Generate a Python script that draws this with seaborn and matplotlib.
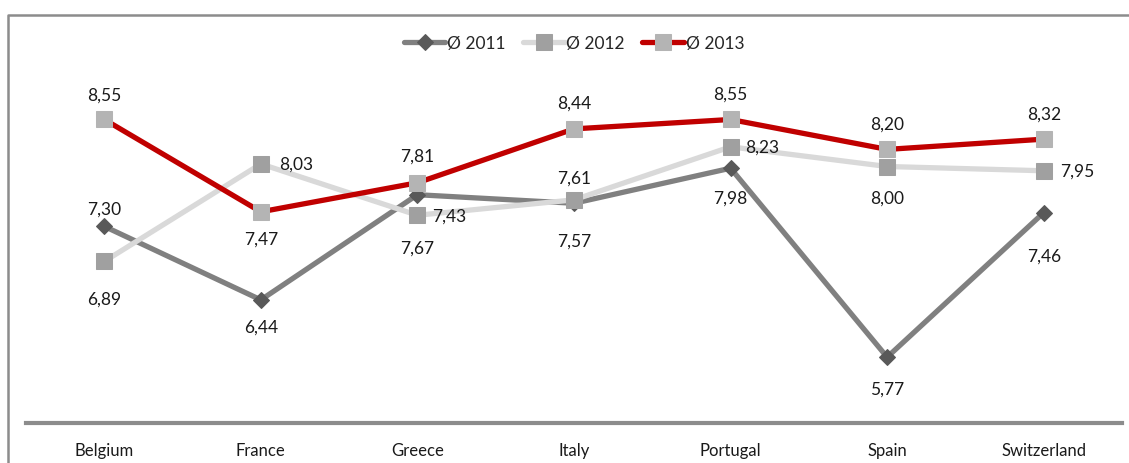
import matplotlib
matplotlib.use("Agg")
import matplotlib.pyplot as plt
import seaborn as sns
import pandas as pd
from matplotlib.lines import Line2D

countries = ["Belgium", "France", "Greece", "Italy", "Portugal", "Spain", "Switzerland"]
avg_2011 = [7.30, 6.44, 7.67, 7.57, 7.98, 5.77, 7.46]
avg_2012 = [6.89, 8.03, 7.43, 7.61, 8.23, 8.00, 7.95]
avg_2013 = [8.55, 7.47, 7.81, 8.44, 8.55, 8.20, 8.32]

# label offsets from each point, in pixels (dx, dy; positive dy = up)
off_2011 = [(0, 18), (0, -27), (0, -53), (0, -37), (0, -29), (0, -31), (0, -43)]
off_2012 = [(0, -37), (35, 0), (32, 0), (0, 22), (32, 0), (0, -31), (34, 0)]
off_2013 = [(0, 25), (0, -27), (0, 27), (0, 26), (0, 26), (0, 26), (0, 26)]

sns.set_theme(style="white")
plt.rcParams["font.family"] = ["Lato", "DejaVu Sans"]

fig = plt.figure(figsize=(11.29, 4.64), dpi=100)
ax = fig.add_axes([26 / 1129, 40 / 464, 1096 / 1129, 342 / 464])

series = [
    ("Ø 2011", avg_2011, off_2011, "#808080", "D", "#595959", 8),
    ("Ø 2012", avg_2012, off_2012, "#d9d9d9", "s", "#a0a0a0", 11),
    ("Ø 2013", avg_2013, off_2013, "#c00000", "s", "#b4b4b4", 11),
]

for name, vals, offs, color, marker, mcolor, msize in series:
    df = pd.DataFrame({"country": countries, "value": vals})
    sns.lineplot(data=df, x="country", y="value", ax=ax, color=color, lw=3.8,
                 marker=marker, markersize=msize, markerfacecolor=mcolor,
                 markeredgecolor=mcolor, label=name, sort=False)
    for i, (v, (dx, dy)) in enumerate(zip(vals, offs)):
        txt = f"{v:.2f}".replace(".", ",")
        ax.annotate(txt, (i, v), xytext=(dx * 0.72, dy * 0.72), textcoords="offset points",
                    ha="center", va="center", fontsize=12.5, color="#1a1a1a")

ax.set_ylim(5, 9)
ax.set_xlim(-0.5, len(countries) - 0.5)
ax.set_yticks([])
ax.set_xlabel("")
ax.set_ylabel("")
for s in ["top", "left", "right"]:
    ax.spines[s].set_visible(False)
ax.spines["bottom"].set_color("#8c8c8c")
ax.spines["bottom"].set_linewidth(3)
ax.tick_params(axis="x", length=0, pad=14, labelsize=12, colors="#1a1a1a")

ax.legend(loc="center", bbox_to_anchor=(0.5, (464 - 44 - 40) / 342), ncol=3, frameon=False,
          fontsize=12.5, handlelength=2.4, columnspacing=1.0, handletextpad=0.1)

# outer frame: left and top edges only
fig.lines.append(Line2D([7.5 / 1129, 7.5 / 1129, 1], [0, 1 - 15.5 / 464, 1 - 15.5 / 464],
                        transform=fig.transFigure, color="#8c8c8c", lw=1.8))

fig.savefig("out.png", dpi=100)
